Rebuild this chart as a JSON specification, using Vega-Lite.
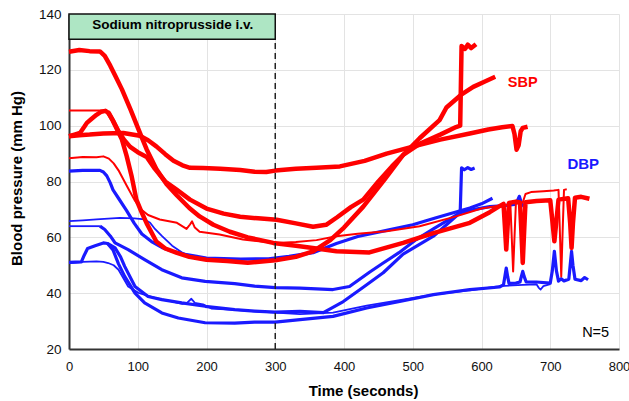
{
 "$schema": "https://vega.github.io/schema/vega-lite/v6.json",
 "width": 550, "height": 335,
 "autosize": {"type": "none"},
 "padding": {"left": 69, "top": 14, "right": 10, "bottom": 52},
 "config": {"view": {"stroke": null}, "font": "Liberation Sans"},
 "datasets": {
  "ann": [
   {"kind": "box", "t": 0, "t2": 300, "v": 131, "v2": 140},
   {"kind": "boxlabel", "t": 151, "v": 135.9, "label": "Sodium nitroprusside i.v."},
   {"kind": "vline", "t": 300, "v": 20, "v2": 131},
   {"kind": "SBP", "t": 660, "v": 115.3, "label": "SBP"},
   {"kind": "DBP", "t": 748, "v": 86.3, "label": "DBP"},
   {"kind": "N", "t": 766, "v": 25.7, "label": "N=5"}
  ],
  "lines": [
{"s":"R1","t":0,"v":96.2},{"s":"R1","t":15,"v":96.6},{"s":"R1","t":30,"v":96.8},{"s":"R1","t":50,"v":97.2},{"s":"R1","t":79,"v":97.4},{"s":"R1","t":103,"v":96.4},{"s":"R1","t":115,"v":94.8},{"s":"R1","t":127,"v":92.6},{"s":"R1","t":140,"v":89.8},{"s":"R1","t":152,"v":87.4},{"s":"R1","t":165,"v":85.8},{"s":"R1","t":176,"v":84.9},{"s":"R1","t":195,"v":84.8},{"s":"R1","t":220,"v":84.6},{"s":"R1","t":249,"v":84.1},{"s":"R1","t":270,"v":83.5},{"s":"R1","t":287,"v":83.4},{"s":"R1","t":300,"v":83.9},{"s":"R1","t":330,"v":84.6},{"s":"R1","t":360,"v":84.9},{"s":"R1","t":394,"v":85.4},{"s":"R1","t":430,"v":87.4},{"s":"R1","t":462,"v":90},{"s":"R1","t":500,"v":92.5},{"s":"R1","t":540,"v":95},{"s":"R1","t":583,"v":97.2},{"s":"R1","t":610,"v":98.6},{"s":"R1","t":630,"v":99.4},{"s":"R1","t":645,"v":99.9},{"s":"R1","t":648,"v":97},{"s":"R1","t":651,"v":91.4},{"s":"R1","t":654,"v":93},{"s":"R1","t":657,"v":98},{"s":"R1","t":660,"v":99.2},{"s":"R1","t":667,"v":99.6},
{"s":"R2","t":0,"v":126.5},{"s":"R2","t":15,"v":127.1},{"s":"R2","t":30,"v":126.7},{"s":"R2","t":45,"v":126.6},{"s":"R2","t":52,"v":125},{"s":"R2","t":60,"v":121.5},{"s":"R2","t":68,"v":117.5},{"s":"R2","t":77,"v":113},{"s":"R2","t":90,"v":105.5},{"s":"R2","t":103,"v":97.5},{"s":"R2","t":113,"v":91.5},{"s":"R2","t":127,"v":84.5},{"s":"R2","t":142,"v":79},{"s":"R2","t":157,"v":75},{"s":"R2","t":175,"v":70.5},{"s":"R2","t":190,"v":67.5},{"s":"R2","t":210,"v":64.5},{"s":"R2","t":234,"v":62},{"s":"R2","t":260,"v":60},{"s":"R2","t":297,"v":58},{"s":"R2","t":330,"v":57},{"s":"R2","t":360,"v":56},{"s":"R2","t":389,"v":55},{"s":"R2","t":437,"v":54.6},{"s":"R2","t":486,"v":58},{"s":"R2","t":530,"v":61.5},{"s":"R2","t":583,"v":65.2},{"s":"R2","t":612,"v":69},{"s":"R2","t":625,"v":71},{"s":"R2","t":632,"v":72},{"s":"R2","t":634,"v":64},{"s":"R2","t":636,"v":55.6},{"s":"R2","t":638,"v":64},{"s":"R2","t":640,"v":72.3},{"s":"R2","t":650,"v":72.8},{"s":"R2","t":656,"v":72.5},{"s":"R2","t":658,"v":62},{"s":"R2","t":660,"v":50.8},{"s":"R2","t":662,"v":62},{"s":"R2","t":664,"v":72.6},{"s":"R2","t":680,"v":73},{"s":"R2","t":700,"v":73.3},{"s":"R2","t":703,"v":66},{"s":"R2","t":706,"v":58.6},{"s":"R2","t":709,"v":66},{"s":"R2","t":712,"v":73.5},{"s":"R2","t":726,"v":74},{"s":"R2","t":729,"v":65},{"s":"R2","t":731,"v":56.2},{"s":"R2","t":733,"v":65},{"s":"R2","t":736,"v":74.2},{"s":"R2","t":745,"v":74.5},{"s":"R2","t":757,"v":73.8},
{"s":"R3","t":0,"v":96.2},{"s":"R3","t":8,"v":96.8},{"s":"R3","t":16,"v":97.4},{"s":"R3","t":22,"v":99.5},{"s":"R3","t":26,"v":101},{"s":"R3","t":33,"v":102.5},{"s":"R3","t":40,"v":103.9},{"s":"R3","t":47,"v":105},{"s":"R3","t":53,"v":105.3},{"s":"R3","t":58,"v":104.5},{"s":"R3","t":64,"v":101.8},{"s":"R3","t":72,"v":98},{"s":"R3","t":80,"v":95},{"s":"R3","t":89,"v":92.4},{"s":"R3","t":100,"v":90.5},{"s":"R3","t":113,"v":88.8},{"s":"R3","t":125,"v":84.5},{"s":"R3","t":140,"v":80},{"s":"R3","t":157,"v":77},{"s":"R3","t":176,"v":73.5},{"s":"R3","t":200,"v":70.3},{"s":"R3","t":225,"v":68.5},{"s":"R3","t":249,"v":67.4},{"s":"R3","t":275,"v":66.8},{"s":"R3","t":302,"v":66.3},{"s":"R3","t":330,"v":65},{"s":"R3","t":355,"v":63.8},{"s":"R3","t":374,"v":64.5},{"s":"R3","t":390,"v":67.2},{"s":"R3","t":410,"v":70.8},{"s":"R3","t":428,"v":73.5},{"s":"R3","t":450,"v":80},{"s":"R3","t":470,"v":85.5},{"s":"R3","t":486,"v":89.5},{"s":"R3","t":510,"v":95.5},{"s":"R3","t":539,"v":102},{"s":"R3","t":549,"v":106.5},{"s":"R3","t":570,"v":111},{"s":"R3","t":588,"v":113.9},{"s":"R3","t":605,"v":115.8},{"s":"R3","t":620,"v":117.5},
{"s":"R4a","t":0,"v":105.4},{"s":"R4a","t":25,"v":105.4},{"s":"R4a","t":50,"v":105.4},{"s":"R4a","t":56,"v":105},
{"s":"R4","t":56,"v":105},{"s":"R4","t":64,"v":101.7},{"s":"R4","t":77,"v":95},{"s":"R4","t":84,"v":89},{"s":"R4","t":91,"v":82},{"s":"R4","t":98,"v":73.5},{"s":"R4","t":106,"v":68.8},{"s":"R4","t":113,"v":65},{"s":"R4","t":127,"v":58.5},{"s":"R4","t":140,"v":56},{"s":"R4","t":157,"v":54.4},{"s":"R4","t":175,"v":53},{"s":"R4","t":200,"v":52},{"s":"R4","t":230,"v":51.5},{"s":"R4","t":260,"v":50.9},{"s":"R4","t":300,"v":51.8},{"s":"R4","t":330,"v":53},{"s":"R4","t":355,"v":55},{"s":"R4","t":380,"v":59},{"s":"R4","t":400,"v":63.5},{"s":"R4","t":428,"v":71},{"s":"R4","t":460,"v":81},{"s":"R4","t":486,"v":89.5},{"s":"R4","t":510,"v":93.5},{"s":"R4","t":540,"v":96.8},{"s":"R4","t":563,"v":99.5},{"s":"R4","t":569,"v":100},{"s":"R4","t":571,"v":128.5},{"s":"R4","t":576,"v":127.5},{"s":"R4","t":580,"v":129},{"s":"R4","t":585,"v":127.8},{"s":"R4","t":592,"v":129.2},
{"s":"R5","t":0,"v":88.3},{"s":"R5","t":20,"v":88.8},{"s":"R5","t":40,"v":88.7},{"s":"R5","t":50,"v":89},{"s":"R5","t":58,"v":88.2},{"s":"R5","t":65,"v":86.5},{"s":"R5","t":72,"v":84},{"s":"R5","t":84,"v":78.5},{"s":"R5","t":95,"v":73.5},{"s":"R5","t":105,"v":70},{"s":"R5","t":115,"v":68},{"s":"R5","t":132,"v":66.4},{"s":"R5","t":157,"v":65.2},{"s":"R5","t":171,"v":63},{"s":"R5","t":176,"v":64.6},{"s":"R5","t":179,"v":65.7},{"s":"R5","t":183,"v":63.5},{"s":"R5","t":190,"v":62},{"s":"R5","t":219,"v":61},{"s":"R5","t":253,"v":59.2},{"s":"R5","t":280,"v":58.5},{"s":"R5","t":302,"v":58},{"s":"R5","t":330,"v":58.3},{"s":"R5","t":360,"v":59},{"s":"R5","t":389,"v":60.4},{"s":"R5","t":420,"v":61.3},{"s":"R5","t":462,"v":62.2},{"s":"R5","t":510,"v":64},{"s":"R5","t":563,"v":67.5},{"s":"R5","t":600,"v":70.3},{"s":"R5","t":630,"v":71.5},{"s":"R5","t":642,"v":71.8},{"s":"R5","t":644,"v":60},{"s":"R5","t":646,"v":47.8},{"s":"R5","t":648,"v":60},{"s":"R5","t":650,"v":72},{"s":"R5","t":660,"v":72.5},{"s":"R5","t":664,"v":75.5},{"s":"R5","t":672,"v":76.2},{"s":"R5","t":690,"v":76.5},{"s":"R5","t":705,"v":76.8},{"s":"R5","t":712,"v":77},{"s":"R5","t":714,"v":62},{"s":"R5","t":716,"v":46},{"s":"R5","t":718,"v":62},{"s":"R5","t":720,"v":77},{"s":"R5","t":724,"v":77.2},
{"s":"B1","t":0,"v":83.7},{"s":"B1","t":20,"v":84},{"s":"B1","t":45,"v":84},{"s":"B1","t":50,"v":83.4},{"s":"B1","t":55,"v":82},{"s":"B1","t":60,"v":79.5},{"s":"B1","t":64,"v":77},{"s":"B1","t":72,"v":74},{"s":"B1","t":84,"v":69.5},{"s":"B1","t":95,"v":65},{"s":"B1","t":106,"v":61.2},{"s":"B1","t":120,"v":58.5},{"s":"B1","t":135,"v":56.4},{"s":"B1","t":150,"v":55},{"s":"B1","t":169,"v":53.9},{"s":"B1","t":200,"v":52.6},{"s":"B1","t":250,"v":52.2},{"s":"B1","t":290,"v":52.3},{"s":"B1","t":320,"v":53.2},{"s":"B1","t":355,"v":54.5},{"s":"B1","t":389,"v":57.8},{"s":"B1","t":420,"v":60.3},{"s":"B1","t":462,"v":62.5},{"s":"B1","t":500,"v":64.5},{"s":"B1","t":534,"v":67},{"s":"B1","t":583,"v":70.5},{"s":"B1","t":600,"v":72},{"s":"B1","t":616,"v":74},
{"s":"B2","t":0,"v":65.8},{"s":"B2","t":20,"v":66.1},{"s":"B2","t":40,"v":66.4},{"s":"B2","t":74,"v":67},{"s":"B2","t":95,"v":66.8},{"s":"B2","t":110,"v":66.4},{"s":"B2","t":118,"v":65.2},{"s":"B2","t":125,"v":63},{"s":"B2","t":135,"v":60.5},{"s":"B2","t":150,"v":57},{"s":"B2","t":165,"v":54.5},{"s":"B2","t":175,"v":53.3},
{"s":"B3a","t":0,"v":64},{"s":"B3a","t":45,"v":64},
{"s":"B3","t":45,"v":64},{"s":"B3","t":52,"v":62.8},{"s":"B3","t":60,"v":60.5},{"s":"B3","t":67,"v":58},{"s":"B3","t":86,"v":55.6},{"s":"B3","t":110,"v":52},{"s":"B3","t":135,"v":48.4},{"s":"B3","t":164,"v":45.5},{"s":"B3","t":198,"v":44.2},{"s":"B3","t":241,"v":43.4},{"s":"B3","t":270,"v":42.5},{"s":"B3","t":300,"v":42},{"s":"B3","t":336,"v":41.8},{"s":"B3","t":384,"v":41.3},{"s":"B3","t":408,"v":42.4},{"s":"B3","t":437,"v":47.5},{"s":"B3","t":457,"v":50.8},{"s":"B3","t":480,"v":54.5},{"s":"B3","t":505,"v":59.2},{"s":"B3","t":530,"v":63},{"s":"B3","t":550,"v":66},{"s":"B3","t":568,"v":68.7},{"s":"B3","t":590,"v":70},{"s":"B3","t":612,"v":71},{"s":"B3","t":630,"v":71.3},{"s":"B3","t":648,"v":71.8},{"s":"B3","t":652,"v":73},{"s":"B3","t":655,"v":74.7},{"s":"B3","t":658,"v":72.3},{"s":"B3","t":662,"v":71},{"s":"B3","t":666,"v":71.2},
{"s":"B4","t":0,"v":51},{"s":"B4","t":18,"v":51.2},{"s":"B4","t":22,"v":53.5},{"s":"B4","t":27,"v":56},{"s":"B4","t":38,"v":57},{"s":"B4","t":50,"v":58},{"s":"B4","t":56,"v":57.8},{"s":"B4","t":67,"v":56.2},{"s":"B4","t":75,"v":53},{"s":"B4","t":81,"v":49.6},{"s":"B4","t":96,"v":42.4},{"s":"B4","t":115,"v":38.8},{"s":"B4","t":135,"v":37.7},{"s":"B4","t":164,"v":36.5},{"s":"B4","t":198,"v":35.3},{"s":"B4","t":241,"v":34.1},{"s":"B4","t":270,"v":33.6},{"s":"B4","t":300,"v":33.2},{"s":"B4","t":336,"v":33.5},{"s":"B4","t":370,"v":33},{"s":"B4","t":399,"v":37},{"s":"B4","t":430,"v":42.5},{"s":"B4","t":457,"v":47.3},{"s":"B4","t":486,"v":54},{"s":"B4","t":530,"v":60.4},{"s":"B4","t":563,"v":67.5},{"s":"B4","t":569,"v":69},{"s":"B4","t":571,"v":84.9},{"s":"B4","t":575,"v":84.2},{"s":"B4","t":580,"v":85},{"s":"B4","t":585,"v":84.3},{"s":"B4","t":590,"v":84.8},
{"s":"B5","t":0,"v":50.8},{"s":"B5","t":20,"v":51.2},{"s":"B5","t":40,"v":51.4},{"s":"B5","t":50,"v":51.2},{"s":"B5","t":57,"v":50.8},{"s":"B5","t":65,"v":50},{"s":"B5","t":72,"v":48.4},{"s":"B5","t":86,"v":42.4},{"s":"B5","t":101,"v":40.1},{"s":"B5","t":125,"v":38.3},{"s":"B5","t":149,"v":37.1},{"s":"B5","t":165,"v":36.2},{"s":"B5","t":172,"v":36.6},{"s":"B5","t":178,"v":38},{"s":"B5","t":183,"v":36.5},{"s":"B5","t":195,"v":36},{"s":"B5","t":207,"v":34.5},{"s":"B5","t":241,"v":34},{"s":"B5","t":270,"v":33.5},{"s":"B5","t":300,"v":33},{"s":"B5","t":336,"v":32.5},{"s":"B5","t":384,"v":33},{"s":"B5","t":433,"v":35.5},{"s":"B5","t":481,"v":37.5},{"s":"B5","t":530,"v":39.5},{"s":"B5","t":583,"v":41},{"s":"B5","t":626,"v":42.5},{"s":"B5","t":660,"v":43},{"s":"B5","t":680,"v":43.2},{"s":"B5","t":683,"v":42},{"s":"B5","t":686,"v":41.3},{"s":"B5","t":690,"v":42.5},{"s":"B5","t":700,"v":43.2},
{"s":"B6","t":56,"v":57.8},{"s":"B6","t":64,"v":55.5},{"s":"B6","t":72,"v":50.5},{"s":"B6","t":81,"v":46},{"s":"B6","t":96,"v":40},{"s":"B6","t":110,"v":36.5},{"s":"B6","t":135,"v":32.9},{"s":"B6","t":159,"v":31.1},{"s":"B6","t":198,"v":29.4},{"s":"B6","t":241,"v":29.3},{"s":"B6","t":270,"v":29.6},{"s":"B6","t":300,"v":29.6},{"s":"B6","t":336,"v":30.5},{"s":"B6","t":384,"v":31.7},{"s":"B6","t":433,"v":34.7},{"s":"B6","t":481,"v":37},{"s":"B6","t":530,"v":39.5},{"s":"B6","t":583,"v":41.3},{"s":"B6","t":626,"v":42.2},{"s":"B6","t":632,"v":43},{"s":"B6","t":634,"v":46},{"s":"B6","t":636,"v":49},{"s":"B6","t":638,"v":46},{"s":"B6","t":640,"v":43.5},{"s":"B6","t":650,"v":43.6},{"s":"B6","t":656,"v":44},{"s":"B6","t":658,"v":46},{"s":"B6","t":660,"v":47.8},{"s":"B6","t":662,"v":46},{"s":"B6","t":665,"v":44},{"s":"B6","t":680,"v":44},{"s":"B6","t":700,"v":43.6},{"s":"B6","t":703,"v":48},{"s":"B6","t":706,"v":55},{"s":"B6","t":709,"v":48},{"s":"B6","t":712,"v":44.3},{"s":"B6","t":716,"v":45.2},{"s":"B6","t":720,"v":44.4},{"s":"B6","t":727,"v":45},{"s":"B6","t":729,"v":50},{"s":"B6","t":731,"v":55},{"s":"B6","t":733,"v":50},{"s":"B6","t":736,"v":45},{"s":"B6","t":745,"v":44.5},{"s":"B6","t":750,"v":45.6},{"s":"B6","t":755,"v":44.8}
  ]
 },
 "encoding": {
  "x": {"field": "t", "type": "quantitative",
        "scale": {"domain": [0, 800], "nice": false, "zero": false},
        "axis": {"values": [0,100,200,300,400,500,600,700,800], "title": "Time (seconds)",
                 "titleFontSize": 15, "titleFontWeight": "bold", "titleColor": "#000",
                 "titleX": 294, "titleY": 46, "titleBaseline": "alphabetic", "titleAlign": "center",
                 "labelFontSize": 13, "labelColor": "#111", "labelPadding": 21, "labelBaseline": "alphabetic",
                 "labelFlush": false, "labelOverlap": false,
                 "ticks": false, "tickSize": 0, "domainColor": "#333", "domainWidth": 2,
                 "gridColor": "#e3e3e3", "gridWidth": 1}},
  "y": {"field": "v", "type": "quantitative",
        "scale": {"domain": [20, 140], "nice": false, "zero": false},
        "axis": {"values": [20,40,60,80,100,120,140], "title": "Blood pressure (mm Hg)",
                 "titleFontSize": 15, "titleFontWeight": "bold", "titleColor": "#000",
                 "titleX": -48, "titleY": 164, "titleBaseline": "alphabetic", "titleAlign": "center", "titleAngle": 270,
                 "labelFontSize": 13.5, "labelColor": "#111", "labelPadding": 8,
                 "labelFlush": false, "labelOverlap": false,
                 "ticks": false, "tickSize": 0, "domainColor": "#333", "domainWidth": 2,
                 "gridColor": "#e3e3e3", "gridWidth": 1}}
 },
 "layer": [
  {"data": {"name": "ann"}, "transform": [{"filter": "datum.kind == 'box'"}],
   "mark": {"type": "rect", "fill": "#aee6c4", "stroke": "#111", "strokeWidth": 1.5},
   "encoding": {"x2": {"field": "t2"}, "y2": {"field": "v2"}}},
  {"data": {"name": "ann"}, "transform": [{"filter": "datum.kind == 'boxlabel'"}],
   "mark": {"type": "text", "fontSize": 13.5, "fontWeight": "bold", "color": "#000", "align": "center", "baseline": "middle"},
   "encoding": {"text": {"field": "label"}}},
  {"data": {"name": "lines"}, "transform": [{"filter": {"field": "s", "oneOf": ["B1","B3","B4","B6"]}}],
   "mark": {"type": "line", "color": "#1a1aff", "strokeWidth": 3.2, "strokeJoin": "round"},
   "encoding": {"detail": {"field": "s"}}},
  {"data": {"name": "lines"}, "transform": [{"filter": {"field": "s", "oneOf": ["B2","B5","B3a"]}}],
   "mark": {"type": "line", "color": "#1a1aff", "strokeWidth": 1.8, "strokeJoin": "round"},
   "encoding": {"detail": {"field": "s"}}},
  {"data": {"name": "lines"}, "transform": [{"filter": {"field": "s", "oneOf": ["R1","R2","R3","R4"]}}],
   "mark": {"type": "line", "color": "#ff0000", "strokeWidth": 4.5, "strokeJoin": "round"},
   "encoding": {"detail": {"field": "s"}}},
  {"data": {"name": "lines"}, "transform": [{"filter": {"field": "s", "oneOf": ["R5","R4a"]}}],
   "mark": {"type": "line", "color": "#ff0000", "strokeWidth": 2, "strokeJoin": "round"},
   "encoding": {"detail": {"field": "s"}}},
  {"data": {"name": "ann"}, "transform": [{"filter": "datum.kind == 'vline'"}],
   "mark": {"type": "rule", "color": "#222", "strokeWidth": 1.5, "strokeDash": [6, 4]},
   "encoding": {"y2": {"field": "v2"}}},
  {"data": {"name": "ann"}, "transform": [{"filter": "datum.kind == 'SBP'"}],
   "mark": {"type": "text", "fontSize": 14.5, "fontWeight": "bold", "color": "#ff0000", "align": "center", "baseline": "middle"},
   "encoding": {"text": {"field": "label"}}},
  {"data": {"name": "ann"}, "transform": [{"filter": "datum.kind == 'DBP'"}],
   "mark": {"type": "text", "fontSize": 15, "fontWeight": "bold", "color": "#1a1aff", "align": "center", "baseline": "middle"},
   "encoding": {"text": {"field": "label"}}},
  {"data": {"name": "ann"}, "transform": [{"filter": "datum.kind == 'N'"}],
   "mark": {"type": "text", "fontSize": 14.5, "color": "#000", "align": "center", "baseline": "middle"},
   "encoding": {"text": {"field": "label"}}}
 ]
}
